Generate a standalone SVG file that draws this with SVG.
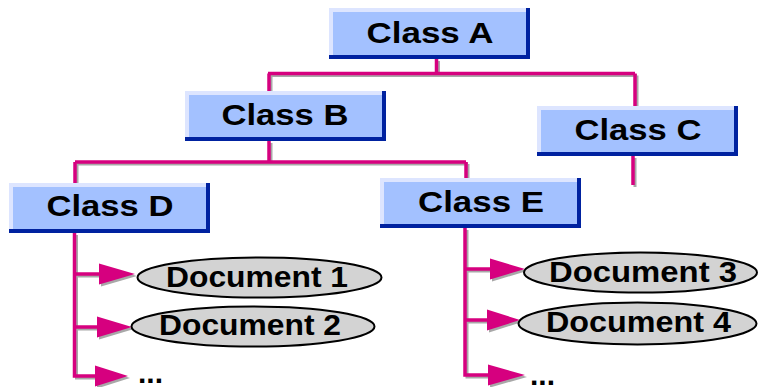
<svg xmlns="http://www.w3.org/2000/svg" width="760" height="387" viewBox="0 0 760 387">
<defs>
<style>
.bd{fill:#0022a0}
.hl{fill:#dde5ff}
.fl{fill:#a3c1ff}
.lbl{font-family:"Liberation Sans",Arial,sans-serif;font-weight:bold;font-size:30px;fill:#000;text-anchor:middle}
.dl{font-family:"Liberation Sans",Arial,sans-serif;font-weight:bold;font-size:29px;fill:#000;text-anchor:middle}
.dots{font-family:"Liberation Sans",Arial,sans-serif;font-weight:bold;font-size:30px;fill:#000}
.doc{fill:#d3d3d3;stroke:#000;stroke-width:2}
.ln{fill:none;stroke:#d6007f;stroke-width:3.5}
.sh{fill:none;stroke:#a8a8a8;stroke-width:3}
.ah{fill:#d6007f}
.ahs{fill:#a8a8a8}
</style>
</defs>
<g id="connectors">
<g transform="translate(2,2)">
<path class="sh" d="M436.5 59V73.5M268 73.5H635M269 73.5V91M635 73.5V106M269 141V162M75 162H466M75 162V183M466 162V178M633 156V185M74.5 233V376H100M74.5 274H100M74.5 327H98M465 228V375H490M465 269H492M465 320H489"/>
<polygon class="ahs" points="99,263.5 135,274 99,284.5"/>
<polygon class="ahs" points="97,316.5 132,327 97,337.5"/>
<polygon class="ahs" points="95,365.5 128,376 95,386.5"/>
<polygon class="ahs" points="490,258.5 525,269 490,279.5"/>
<polygon class="ahs" points="487,309.5 520,320 487,330.5"/>
<polygon class="ahs" points="488,364.5 525,375 488,385.5"/>
</g>
<path class="ln" d="M436.5 59V73.5M268 73.5H635M269 73.5V91M635 73.5V106M269 141V162M75 162H466M75 162V183M466 162V178M633 156V185M74.5 233V376H100M74.5 274H100M74.5 327H98M465 228V375H490M465 269H492M465 320H489"/>
<polygon class="ah" points="99,263.5 135,274 99,284.5"/>
<polygon class="ah" points="97,316.5 132,327 97,337.5"/>
<polygon class="ah" points="95,365.5 128,376 95,386.5"/>
<polygon class="ah" points="490,258.5 525,269 490,279.5"/>
<polygon class="ah" points="487,309.5 520,320 487,330.5"/>
<polygon class="ah" points="488,364.5 525,375 488,385.5"/>
</g>
<g id="classA">
<rect class="bd" x="329" y="8" width="201" height="51"/>
<rect class="hl" x="329" y="8" width="197" height="47"/>
<rect class="fl" x="333" y="12" width="193" height="43"/>
<text class="lbl" x="430" y="43" textLength="127" lengthAdjust="spacingAndGlyphs">Class  A</text>
</g>
<g id="classB">
<rect class="bd" x="185" y="91" width="201" height="50"/>
<rect class="hl" x="185" y="91" width="197" height="46"/>
<rect class="fl" x="189" y="95" width="193" height="42"/>
<text class="lbl" x="285" y="125" textLength="127" lengthAdjust="spacingAndGlyphs">Class  B</text>
</g>
<g id="classC">
<rect class="bd" x="537" y="106" width="201" height="50"/>
<rect class="hl" x="537" y="106" width="197" height="46"/>
<rect class="fl" x="541" y="110" width="193" height="42"/>
<text class="lbl" x="638" y="140" textLength="127" lengthAdjust="spacingAndGlyphs">Class  C</text>
</g>
<g id="classD">
<rect class="bd" x="9" y="183" width="201" height="50"/>
<rect class="hl" x="9" y="183" width="197" height="46"/>
<rect class="fl" x="13" y="187" width="193" height="42"/>
<text class="lbl" x="110" y="216" textLength="127" lengthAdjust="spacingAndGlyphs">Class  D</text>
</g>
<g id="classE">
<rect class="bd" x="380" y="178" width="201" height="50"/>
<rect class="hl" x="380" y="178" width="197" height="46"/>
<rect class="fl" x="384" y="182" width="193" height="42"/>
<text class="lbl" x="481" y="212" textLength="126" lengthAdjust="spacingAndGlyphs">Class  E</text>
</g>
<g id="doc1">
<ellipse class="doc" cx="259.5" cy="277.5" rx="122" ry="20"/>
<text class="dl" x="257" y="287" textLength="182" lengthAdjust="spacingAndGlyphs">Document 1</text>
</g>
<g id="doc2">
<ellipse class="doc" cx="253" cy="326.5" rx="121.5" ry="20"/>
<text class="dl" x="250" y="335" textLength="182" lengthAdjust="spacingAndGlyphs">Document 2</text>
</g>
<g id="doc3">
<ellipse class="doc" cx="640.5" cy="272.5" rx="116.5" ry="20"/>
<text class="dl" x="643" y="282" textLength="188" lengthAdjust="spacingAndGlyphs">Document 3</text>
</g>
<g id="doc4">
<ellipse class="doc" cx="637.5" cy="323.5" rx="119" ry="21"/>
<text class="dl" x="638.5" y="332" textLength="185" lengthAdjust="spacingAndGlyphs">Document 4</text>
</g>
<g id="more1">
<text class="dots" x="138" y="383">...</text>
</g>
<g id="more2">
<text class="dots" x="530" y="385">...</text>
</g>
</svg>
